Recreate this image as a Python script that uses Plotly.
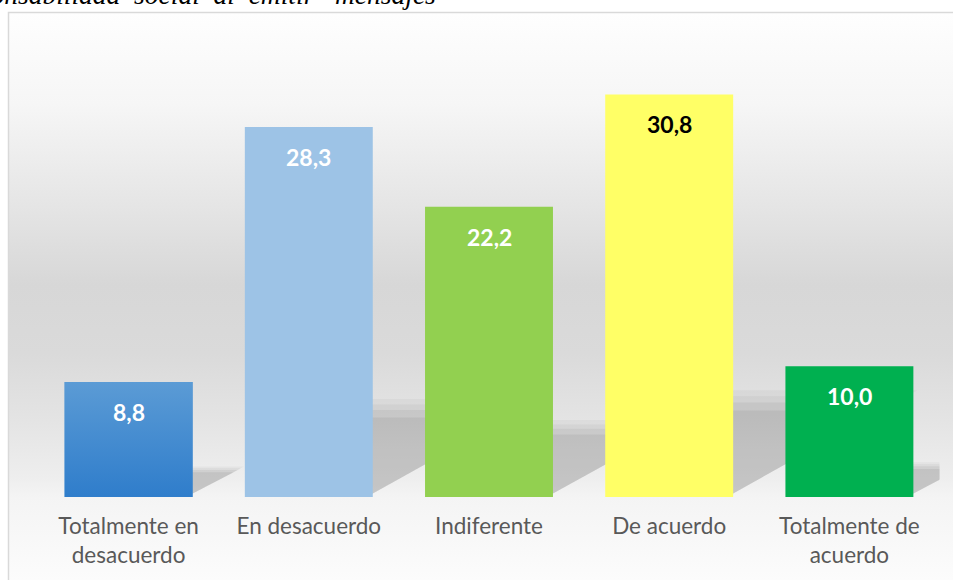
import plotly.graph_objects as go

# data
categories = ["Totalmente en<br>desacuerdo", "En desacuerdo", "Indiferente",
              "De acuerdo", "Totalmente de<br>acuerdo"]
values = [8.8, 28.3, 22.2, 30.8, 10.0]
labels = ["8,8", "28,3", "22,2", "30,8", "10,0"]
bar_colors = ["#4590d3", "#9dc3e6", "#92d050", "#ffff66", "#00b050"]
label_colors = ["white", "white", "white", "black", "white"]
title_words = ["Responsabilidad", "social", "al", "emitir", "mensajes"]

W, H = 953, 580
BAR_W = 0.71
X_DOMAIN = [38.5 / W, 939.5 / W]
Y_DOMAIN = [(H - 497) / H, (H - 39.5) / H]
X_RANGE = [-0.5, 4.5]
Y_RANGE = [0, 35]

fig = go.Figure()

# chart area background (vertical grey gradient), first subplot -> drawn underneath
fig.add_trace(
    go.Scatter(
        x=[0, 1, 1, 0, 0],
        y=[0, 0, 1, 1, 0],
        mode="lines",
        line=dict(width=0),
        fill="toself",
        fillgradient=dict(
            type="vertical",
            start=0,
            stop=1,
            colorscale=[
                [0.0, "#fcfcfc"],
                [0.146, "#f4f4f4"],
                [0.18, "#eeeeee"],
                [0.28, "#e4e4e4"],
                [0.40, "#dadada"],
                [0.52, "#d7d7d7"],
                [0.66, "#e5e5e5"],
                [0.84, "#f6f6f6"],
                [1.0, "#fefefe"],
            ],
        ),
        hoverinfo="skip",
        showlegend=False,
        xaxis="x",
        yaxis="y",
    )
)

# soft shadows cast by the bars, second subplot -> below the bars
for i, v in enumerate(values):
    xr = i + BAR_W / 2 - 0.01
    hs = 0.25 * v
    dx = 0.11 * hs
    for s, op in [(1.06, 0.06), (1.0, 0.08), (0.94, 0.10), (0.86, 0.12)]:
        fig.add_trace(
            go.Scatter(
                x=[xr, xr, xr + dx * s * 1.15, xr],
                y=[0.2, hs * s, hs * s, 0.2],
                mode="lines",
                line=dict(width=0),
                fill="toself",
                fillcolor=f"rgba(110,110,110,{op})",
                hoverinfo="skip",
                showlegend=False,
                xaxis="x2",
                yaxis="y2",
            )
        )

# bars, third subplot -> on top
fig.add_trace(
    go.Bar(
        x=list(range(len(values))),
        y=values,
        width=BAR_W,
        marker=dict(color=bar_colors, line=dict(width=0)),
        hoverinfo="skip",
        showlegend=False,
        xaxis="x3",
        yaxis="y3",
    )
)

# first bar has a top-to-bottom blue gradient
fig.add_trace(
    go.Scatter(
        x=[-BAR_W / 2, BAR_W / 2, BAR_W / 2, -BAR_W / 2, -BAR_W / 2],
        y=[0, 0, values[0], values[0], 0],
        mode="lines",
        line=dict(width=0),
        fill="toself",
        fillgradient=dict(
            type="vertical",
            start=0,
            stop=values[0],
            colorscale=[[0, "#2f7dcb"], [1, "#5b9bd5"]],
        ),
        hoverinfo="skip",
        showlegend=False,
        xaxis="x3",
        yaxis="y3",
    )
)

for i, (v, t, c) in enumerate(zip(values, labels, label_colors)):
    fig.add_annotation(
        x=i, y=v, xref="x3", yref="y3",
        text=f"<b>{t}</b>", showarrow=False,
        yanchor="middle", yshift=-30,
        font=dict(family="Lato", size=23, color=c),
    )

# cut-off title at the very top (justified text -> wide word gaps)
gap = "&nbsp;" * 2
title_html = gap.join(title_words[:-1]) + "&nbsp;" * 3 + title_words[-1]
fig.add_annotation(
    x=438 / W, y=1 + 6 / H, xref="paper", yref="paper",
    xanchor="right", yanchor="middle",
    text=f"<i>{title_html}</i>", showarrow=False,
    font=dict(family="Liberation Serif", size=27.5, color="black"),
)

# chart border
fig.add_shape(
    type="rect", xref="paper", yref="paper",
    x0=8.5 / W, x1=1.02, y0=-0.02, y1=1 - 12.5 / H,
    line=dict(color="#d9d9d9", width=1.5), fillcolor="rgba(0,0,0,0)",
)

hidden = dict(visible=False, fixedrange=True)
fig.update_layout(
    width=W,
    height=H,
    margin=dict(l=0, r=0, t=0, b=0),
    paper_bgcolor="white",
    plot_bgcolor="rgba(0,0,0,0)",
    xaxis=dict(domain=[9 / W, 1], range=[0, 1], **hidden),
    yaxis=dict(domain=[0, 1 - 13 / H], range=[0, 1], **hidden),
    xaxis2=dict(domain=X_DOMAIN, range=X_RANGE, anchor="y2", **hidden),
    yaxis2=dict(domain=Y_DOMAIN, range=Y_RANGE, anchor="x2", **hidden),
    xaxis3=dict(
        domain=X_DOMAIN,
        range=X_RANGE,
        anchor="y3",
        tickvals=list(range(len(categories))),
        ticktext=categories,
        showgrid=False,
        zeroline=False,
        showline=False,
        ticks="",
        ticklabelstandoff=13,
        tickfont=dict(family="Lato", size=22.5, color="#595959"),
        fixedrange=True,
    ),
    yaxis3=dict(domain=Y_DOMAIN, range=Y_RANGE, anchor="x3", **hidden),
)

fig.write_html(
    "out.html",
    config={"displayModeBar": False, "staticPlot": True},
    post_script="document.body.style.margin='0';",
)
